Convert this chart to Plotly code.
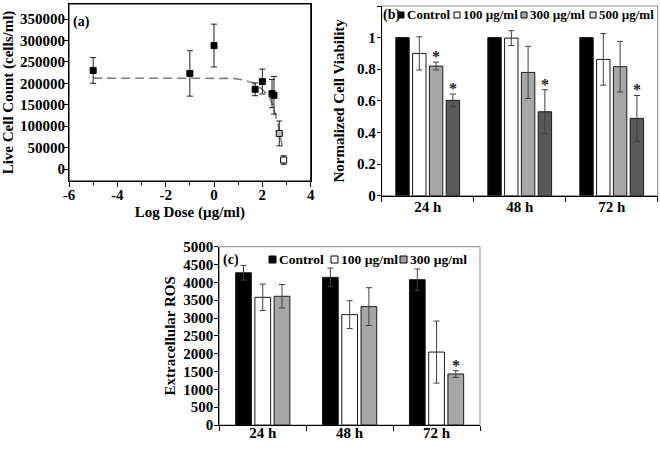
import plotly.graph_objects as go

# ---------------- Panel (a): live cell count vs log dose ----------------
log_dose = [-5, -1, 0, 1.7, 2.0, 2.4, 2.48, 2.7, 2.88]
live_count = [230000, 223000, 288000, 186000, 204000, 176000, 172000, 83000, 21000]
live_err = [30000, 53000, 50000, 15000, 29000, 33000, 44000, 29000, 10000]
fit_log_dose = [-5, -4, -3, -2, -1, 0, 0.8, 1.2, 1.6, 2.0, 2.3, 2.45, 2.55, 2.65, 2.75, 2.85]
fit_count = [212000, 212000, 212000, 212000, 212000, 212000, 211500, 208000, 201000,
             186000, 166000, 146000, 126000, 104000, 75000, 42000]
a_xtick_vals = [-6, -4, -2, 0, 2, 4]
a_xtick_text = ["-6", "-4", "-2", "0", "2", "4"]

# ---------------- Panel (b): normalized cell viability ----------------
times = ["24 h", "48 h", "72 h"]
b_series = ["Control", "100 µg/ml", "300 µg/ml", "500 µg/ml"]
b_control = [1.0, 1.0, 1.0]
b_control_err = [0, 0, 0]
b_100 = [0.900, 0.997, 0.862]
b_100_err = [0.105, 0.047, 0.163]
b_300 = [0.820, 0.780, 0.816]
b_300_err = [0.025, 0.165, 0.160]
b_500 = [0.603, 0.531, 0.489]
b_500_err = [0.040, 0.140, 0.145]
b_sig = [[False, False, False], [False, False, False], [True, False, False], [True, True, True]]

# ---------------- Panel (c): extracellular ROS ----------------
c_series = ["Control", "100 µg/ml", "300 µg/ml"]
c_control = [4270, 4140, 4075]
c_control_err = [205, 260, 300]
c_100 = [3580, 3095, 2045]
c_100_err = [370, 390, 870]
c_300 = [3610, 3320, 1430]
c_300_err = [330, 530, 95]
c_sig = [[False, False, False], [False, False, False], [False, False, True]]

# ---------------- styling / layout helpers ----------------
W, H = 660, 449
FONT = "Liberation Serif, Times New Roman, serif"


def fx(px):
    return px / W


def fy(py):
    return 1 - py / H


def bfont(size):
    return dict(family=FONT, size=size, color="black", weight="bold")


fig = go.Figure()

# Panel (a)
fig.add_trace(go.Scatter(
    x=fit_log_dose, y=fit_count, mode="lines", xaxis="x", yaxis="y",
    line=dict(color="#808080", width=1.6, dash="9px,5px"), showlegend=False))
fig.add_trace(go.Scatter(
    x=log_dose, y=live_count, mode="markers", xaxis="x", yaxis="y",
    marker=dict(symbol="square", size=6,
                color=["black"] * 7 + ["#bdbdbd", "white"],
                line=dict(color="black", width=1)),
    error_y=dict(type="data", array=live_err, color="#202020", thickness=1, width=3),
    showlegend=False))
fig.add_shape(type="rect", xref="x domain", yref="y domain", x0=0, x1=1, y0=0, y1=1,
              line=dict(color="black", width=1), layer="below")

# Panel (b)
b_vals = [b_control, b_100, b_300, b_500]
b_errs = [b_control_err, b_100_err, b_300_err, b_500_err]
b_colors = ["black", "white", "#a6a6a6", "#595959"]
b_pitch, b_width = 0.1825, 0.146
for k, name in enumerate(b_series):
    off = -2 * b_pitch + (b_pitch - b_width) / 2 + k * b_pitch
    fig.add_trace(go.Bar(
        x=times, y=b_vals[k], name=name, xaxis="x2", yaxis="y2",
        offset=off, width=b_width,
        marker=dict(color=b_colors[k], line=dict(color="#1a1a1a", width=1)),
        error_y=dict(type="data", array=b_errs[k], visible=any(e > 0 for e in b_errs[k]),
                     color="#404040", thickness=1, width=3),
        showlegend=False))
    for i, flag in enumerate(b_sig[k]):
        if flag:
            fig.add_annotation(x=i + off + b_width / 2, y=b_vals[k][i] + b_errs[k][i],
                               xref="x2", yref="y2", text="*", showarrow=False,
                               yanchor="bottom", yshift=-5,
                               font=dict(family=FONT, size=16, color="#222"))

# Panel (c)
c_vals = [c_control, c_100, c_300]
c_errs = [c_control_err, c_100_err, c_300_err]
c_colors = ["black", "white", "#a6a6a6"]
c_pitch, c_width = 0.2215, 0.181
for k, name in enumerate(c_series):
    off = -1.5 * c_pitch + (c_pitch - c_width) / 2 + k * c_pitch
    fig.add_trace(go.Bar(
        x=times, y=c_vals[k], name=name, xaxis="x3", yaxis="y3",
        offset=off, width=c_width,
        marker=dict(color=c_colors[k], line=dict(color="#1a1a1a", width=1)),
        error_y=dict(type="data", array=c_errs[k], color="#404040", thickness=1, width=3),
        showlegend=False))
    for i, flag in enumerate(c_sig[k]):
        if flag:
            fig.add_annotation(x=i + off + c_width / 2, y=c_vals[k][i] + c_errs[k][i],
                               xref="x3", yref="y3", text="*", showarrow=False,
                               yanchor="bottom", yshift=-5,
                               font=dict(family=FONT, size=16, color="#222"))

# Frames for (b) and (c)
for ax in ["2", "3"]:
    fig.add_shape(type="rect", xref=f"x{ax} domain", yref=f"y{ax} domain",
                  x0=0, x1=1, y0=0, y1=1, line=dict(color="#8c8c8c", width=1),
                  layer="below")


# Manual legends (swatch + text)
def legend_items(names, colors, sw_left, y_center, size, fsize):
    for name, col, xl in zip(names, colors, sw_left):
        fig.add_shape(type="rect", xref="paper", yref="paper",
                      x0=fx(xl), x1=fx(xl + size),
                      y0=fy(y_center + size / 2), y1=fy(y_center - size / 2),
                      fillcolor=col, line=dict(color="black", width=1))
        fig.add_annotation(x=fx(xl + size + 1), y=fy(y_center), xref="paper", yref="paper",
                           text=name, showarrow=False, xanchor="left", yanchor="middle",
                           font=bfont(fsize))


legend_items(b_series, ["black", "white", "#a6a6a6", "#e0e0e0"],
             [398, 454, 521, 590], 15, 6, 13)
legend_items(c_series, c_colors, [269, 331, 400], 259.5, 7, 13.5)

# panel letters
fig.add_annotation(x=fx(71), y=fy(22), xref="paper", yref="paper", text="(a)",
                   showarrow=False, xanchor="left", yanchor="middle", font=bfont(14))
fig.add_annotation(x=fx(381), y=fy(15), xref="paper", yref="paper", text="(b)",
                   showarrow=False, xanchor="left", yanchor="middle", font=bfont(14))
fig.add_annotation(x=fx(221), y=fy(259.5), xref="paper", yref="paper", text="(c)",
                   showarrow=False, xanchor="left", yanchor="middle", font=bfont(14))

axis_common = dict(showgrid=False, zeroline=False, showline=True, linecolor="black",
                   linewidth=1, ticks="outside", tickcolor="black", automargin=False,
                   tickfont=bfont(15))

fig.update_layout(
    width=W, height=H, margin=dict(l=0, r=0, t=0, b=0),
    paper_bgcolor="white", plot_bgcolor="white",
    font=dict(family=FONT, size=14, color="black", weight="bold"),
    barmode="overlay", showlegend=False,
    xaxis=dict(axis_common, domain=[fx(69), fx(310.7)], range=[-6, 4], anchor="y",
               tickvals=a_xtick_vals, ticktext=a_xtick_text, ticklen=5, mirror=True,
               ticklabelstandoff=-5,
               minor=dict(dtick=1, ticklen=3, ticks="outside", tickcolor="black"),
               title=dict(text="Log Dose (µg/ml)", font=bfont(15), standoff=4)),
    yaxis=dict(axis_common, domain=[fy(181), fy(4)], range=[-28000, 385000], anchor="x",
               dtick=50000, tick0=0, tickformat="d", ticklen=4, mirror=True,
               ticklabelstandoff=-4,
               title=dict(text="Live Cell Count (cells/ml)", font=bfont(15), standoff=3)),
    xaxis2=dict(axis_common, domain=[fx(381.7), fx(657.7)], type="category",
                range=[-0.5, 2.5], anchor="y2", tickson="boundaries", ticklen=5,
                ticklabelstandoff=-3),
    yaxis2=dict(axis_common, domain=[fy(195.7), fy(6)], range=[0, 1.2], anchor="x2",
                dtick=0.2, ticklen=4, ticklabelstandoff=-2,
                title=dict(text="Normalized Cell Viability", font=bfont(15), standoff=8)),
    xaxis3=dict(axis_common, domain=[fx(219.3), fx(480)], type="category",
                range=[-0.5, 2.5], anchor="y3", tickson="boundaries", ticklen=5,
                ticklabelstandoff=-6),
    yaxis3=dict(axis_common, domain=[fy(425), fy(246.7)], range=[0, 5000], anchor="x3",
                dtick=500, ticklen=4, ticklabelstandoff=-2,
                title=dict(text="Extracellular ROS", font=bfont(15), standoff=4)),
)

fig.write_html("out.html", config={"displayModeBar": False},
               post_script="document.body.style.margin='0px';")
